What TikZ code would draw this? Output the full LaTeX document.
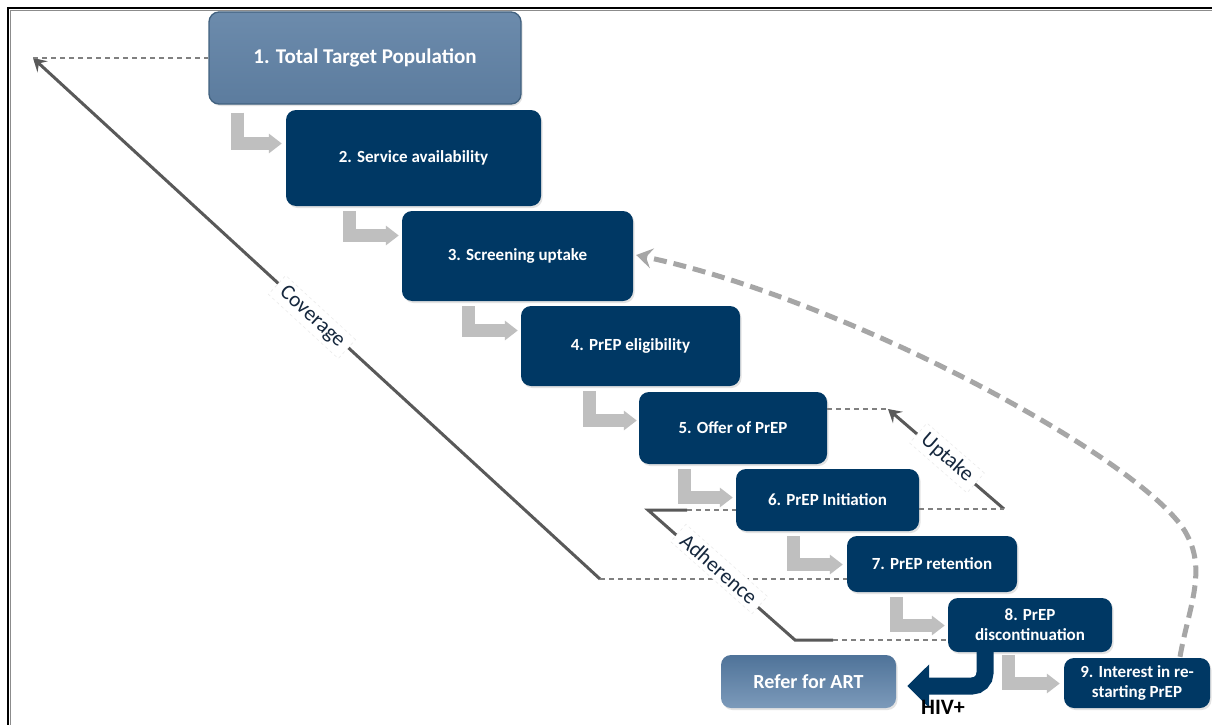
\documentclass[tikz,border=0pt]{standalone}
\usepackage{fontspec}
\setmainfont{Carlito}
\usetikzlibrary{arrows.meta,calc,shadows}
\definecolor{navy}{HTML}{003864}
\definecolor{steeltop}{HTML}{6C8BAC}
\definecolor{steelbot}{HTML}{5C7C9E}
\definecolor{steeldark}{HTML}{41617F}
\definecolor{refertop}{HTML}{4F7399}
\definecolor{referbot}{HTML}{7C9ABA}
\definecolor{elbowgray}{HTML}{BFBFBF}
\definecolor{linegray}{HTML}{595959}
\definecolor{dashgray}{HTML}{808080}
\definecolor{curvegray}{HTML}{A6A6A6}
\definecolor{labeltext}{HTML}{15273D}
\begin{document}
\begin{tikzpicture}[x=1pt,y=-1pt,
  stagebox/.style={rounded corners=10pt, fill=navy, text=white, inner sep=0pt, align=center,
    font=\bfseries\fontsize{17}{20}\selectfont,
    drop shadow={shadow xshift=1.5pt, shadow yshift=-2pt, opacity=0.22}},
  topbox/.style={stagebox, fill=none, top color=steeltop, bottom color=steelbot, draw=steeldark, line width=1.3pt,
    font=\bfseries\fontsize{21}{24}\selectfont},
  referbox/.style={stagebox, fill=none, top color=refertop, bottom color=referbot,
    font=\bfseries\fontsize{20}{23}\selectfont},
  elbow/.style={draw=elbowgray, line width=13pt, line join=miter, line cap=butt,
    -{Triangle[length=13pt,width=19pt]}},
  hivarrow/.style={draw=navy, line width=17pt, rounded corners=13pt, line cap=butt,
    -{Triangle[length=22pt,width=42pt]}},
  thickline/.style={draw=linegray, line width=3pt},
  tipline/.style={thickline, -{Stealth[length=13pt,width=15pt,inset=5pt]}},
  thindash/.style={draw=dashgray, line width=1.1pt, dash pattern=on 5pt off 4pt},
  bigcurve/.style={draw=curvegray, line width=5pt, dash pattern=on 13pt off 7pt,
    -{Stealth[length=16pt,width=20pt,inset=6pt]}},
  lbl/.style={fill=white, draw=black!8, dashed, line width=0.6pt, text=labeltext,
    font=\fontsize{21.5}{24}\selectfont, inner xsep=7pt, inner ysep=4pt}
]
\useasboundingbox (0,0) rectangle (1212,725);
\fill[white] (0,0) rectangle (1212,725);

% frame
\draw[black!45, line width=1.2pt] (10.5,725) -- (10.5,10.5) -- (1212,10.5);
\draw[black, line width=2.4pt] (8,725) -- (8,8) -- (1212,8);

% stage boxes
\node[topbox, minimum width=312pt, minimum height=92pt] (b1) at (365,58) {1. Total Target Population};
\node[stagebox, minimum width=255pt, minimum height=96pt] (b2) at (413.5,158) {2. Service availability};
\node[stagebox, minimum width=231pt, minimum height=90pt] (b3) at (517.5,256) {3. Screening uptake};
\node[stagebox, minimum width=219pt, minimum height=80pt] (b4) at (630.5,346) {4. PrEP eligibility};
\node[stagebox, minimum width=188pt, minimum height=72pt] (b5) at (733,428) {5. Offer of PrEP};
\node[stagebox, minimum width=183pt, minimum height=62pt] (b6) at (827.5,500) {6. PrEP Initiation};
\node[stagebox, minimum width=170pt, minimum height=56pt] (b7) at (932,564) {7. PrEP retention};
\node[stagebox, minimum width=164pt, minimum height=54pt] (b8) at (1030,625) {8. PrEP\\discontinuation};
\node[stagebox, minimum width=146pt, minimum height=50pt] (b9) at (1137,683) {9. Interest in re-\\starting PrEP};
\node[referbox, minimum width=175pt, minimum height=53pt] (refer) at (808.5,681.5) {Refer for ART};

% elbow arrows
\draw[elbow] ($(b1.south west)+(29.5,8)$) |- ($(b2.west)+(-4,-14.5)$);
\draw[elbow] ($(b2.south west)+(63.5,5)$) |- ($(b3.west)+(-3,-20.5)$);
\draw[elbow] ($(b3.south west)+(66.5,5)$) |- ($(b4.west)+(-3,-15.5)$);
\draw[elbow] ($(b4.south west)+(68.5,5)$) |- ($(b5.west)+(-2,-7.5)$);
\draw[elbow] ($(b5.south west)+(45.5,5)$) |- ($(b6.west)+(-3,-2.5)$);
\draw[elbow] ($(b6.south west)+(57.5,5)$) |- ($(b7.west)+(-4,0.5)$);
\draw[elbow] ($(b7.south west)+(49.5,5)$) |- ($(b8.west)+(-3,0.5)$);
\draw[elbow] ($(b8.south west)+(60.5,3)$) |- ($(b9.west)+(-4,0.5)$);

% HIV+ arrow
\draw[hivarrow] ($(b8.south)+(-45,-1)$) |- ($(refer.east)+(11,4.5)$);
\node[font=\bfseries\fontsize{22}{24}\selectfont, text=black, inner sep=0pt] (hiv) at (943,707) {HIV+};

% re-start loop
\draw[bigcurve] ($(b9.north)+(43,-1)$) .. controls (1188,610) and (1207,572) .. (1187,535)
  .. controls (1152,465) and (850,300) .. ($(b3.east)+(3,-1)$);

% Coverage
\coordinate (covtop) at (33,58);
\coordinate (covbot) at (600,579);
\draw[tipline] (covbot) -- (covtop);
\draw[thindash] (covtop) -- (b1.west);
\draw[thindash] (covbot) -- (covbot -| b7.west);
\node[lbl, rotate=-42.6] (covlbl) at (312,317) {Coverage};

% Uptake
\coordinate (uptop) at (888,409);
\coordinate (upbot) at (1004,509);
\draw[tipline] (upbot) -- (uptop);
\draw[thindash] (uptop -| b5.east) -- (uptop);
\draw[thindash] (upbot -| b6.east) -- (upbot);
\node[lbl, rotate=-41] (uplbl) at (947,458) {Uptake};

% Adherence
\coordinate (adA) at (687,510);
\coordinate (adB) at (648,510);
\coordinate (adC) at (795,640);
\coordinate (adD) at (833,640);
\draw[thickline, line join=miter] (adA) -- (adB) -- (adC) -- (adD);
\draw[thindash] (adA) -- (adA -| b6.west);
\draw[thindash] (adD) -- (adD -| b8.west);
\node[lbl, rotate=-41.5] (adlbl) at (719,569) {Adherence};
\end{tikzpicture}
\end{document}
